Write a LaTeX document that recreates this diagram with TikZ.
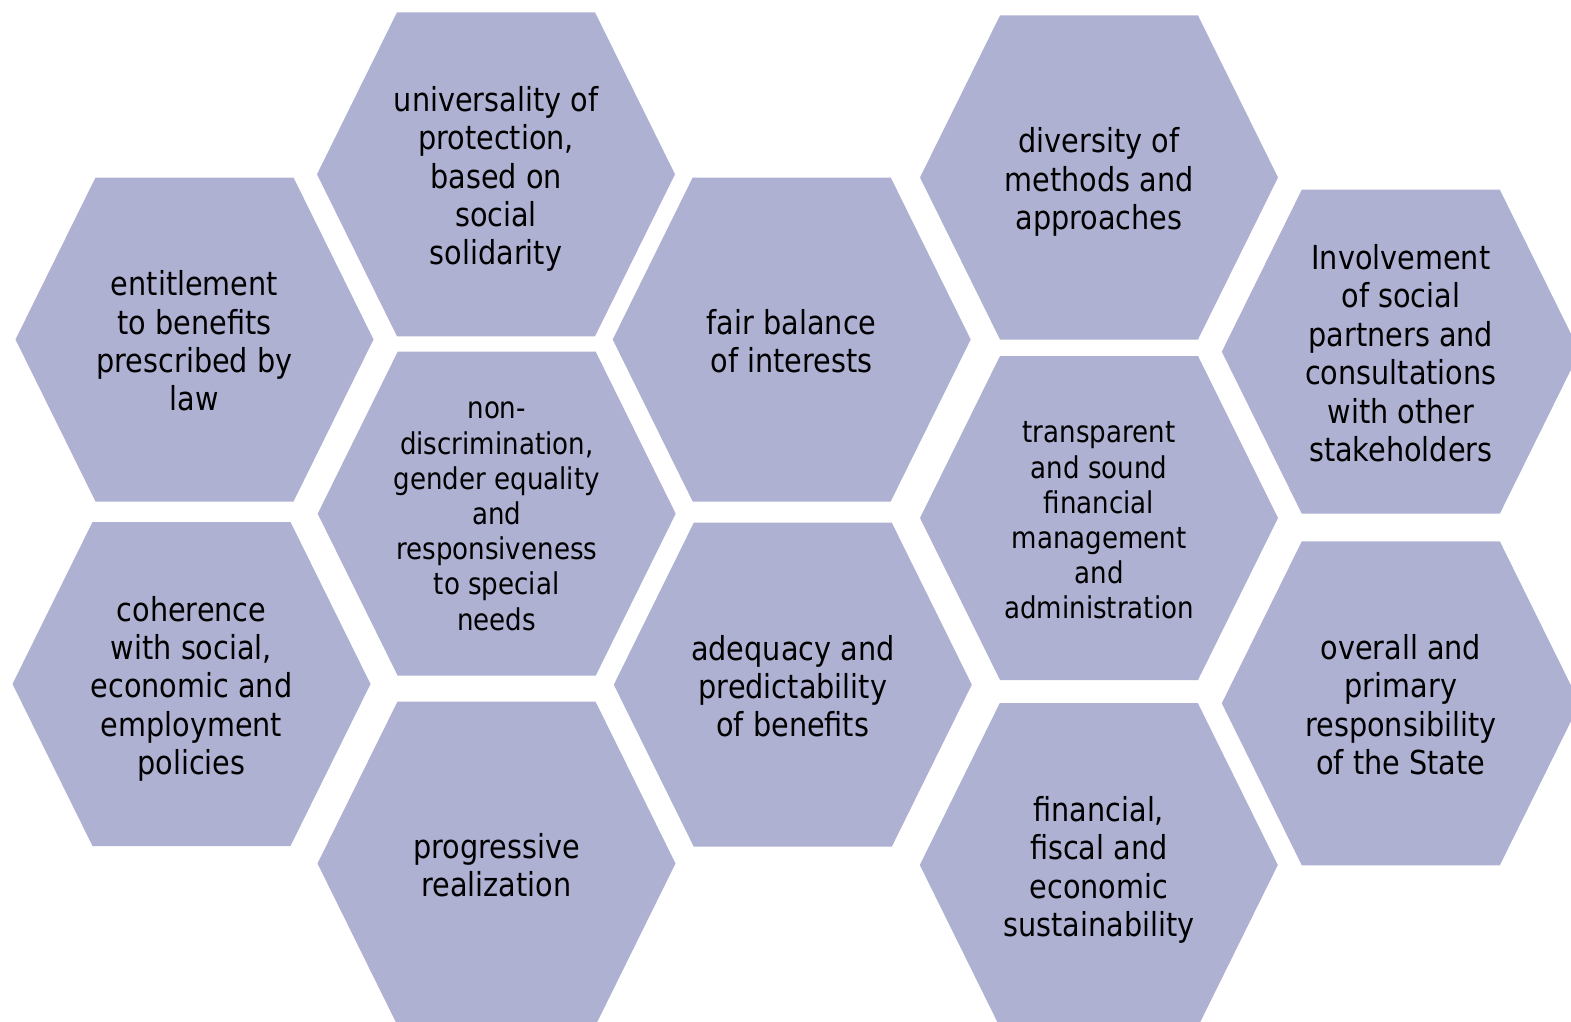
\documentclass[tikz,border=0pt]{standalone}
\usepackage{fontspec}
\setmainfont{DejaVu Sans}[FakeStretch=0.87]
\definecolor{hexc}{RGB}{175,177,211}
\newcommand\hexstrutA{\rule[-6.7pt]{0pt}{38.4pt}}
\newcommand\hexstrutB{\rule[-6.2pt]{0pt}{35.2pt}}
\tikzset{
  hexfill/.style={fill=hexc},
  hextext/.style={inner sep=0pt, align=center, text=black, font=\fontsize{33}{38.4}\selectfont,
    yshift=-4.7pt, execute at begin node=\hexstrutA, execute at end node=\hexstrutA},
  hexsmall/.style={inner sep=0pt, align=center, text=black, font=\fontsize{30}{35.2}\selectfont,
    yshift=-5.5pt, execute at begin node=\hexstrutB, execute at end node=\hexstrutB}
}
\newcommand\hexcell[5][hextext]{%
  \fill[hexfill] (#3,#4) ++(-99,-162) -- ++(198,0) -- ++(80,162) -- ++(-80,162) -- ++(-198,0) -- ++(-80,-162) -- cycle;
  \node[#1] (#2) at (#3,#4) {#5};
}
\begin{document}
\begin{tikzpicture}[x=1pt,y=-1pt]
\clip (0,0) rectangle (1571,1022);
\fill[white] (0,0) rectangle (1571,1022);
\hexcell{entitlement}{194.5}{339.5}{entitlement\\to benefits\\prescribed by\\law}
\hexcell{coherence}{191.5}{684}{coherence\\with social,\\economic and\\employment\\policies}
\hexcell{universality}{496}{174.3}{universality of\\protection,\\based on\\social\\solidarity}
\hexcell[hexsmall]{nondisc}{496.7}{513.7}{non-\\discrimination,\\gender equality\\and\\responsiveness\\to special\\needs}
\hexcell{progressive}{496.5}{863.5}{progressive\\realization}
\hexcell{fair}{791.7}{339.5}{fair balance\\of interests}
\hexcell{adequacy}{792.8}{684.7}{adequacy and\\predictability\\of benefits}
\hexcell{diversity}{1099}{177.5}{diversity of\\methods and\\approaches}
\hexcell[hexsmall]{transparent}{1099}{518}{transparent\\and sound\\financial\\management\\and\\administration}
\hexcell{financial}{1098.8}{865}{financial,\\fiscal and\\economic\\sustainability}
\hexcell{involvement}{1400.8}{351.7}{Involvement\\of social\\partners and\\consultations\\with other\\stakeholders}
\hexcell{overall}{1400.8}{703.3}{overall and\\primary\\responsibility\\of the State}
\end{tikzpicture}
\end{document}
